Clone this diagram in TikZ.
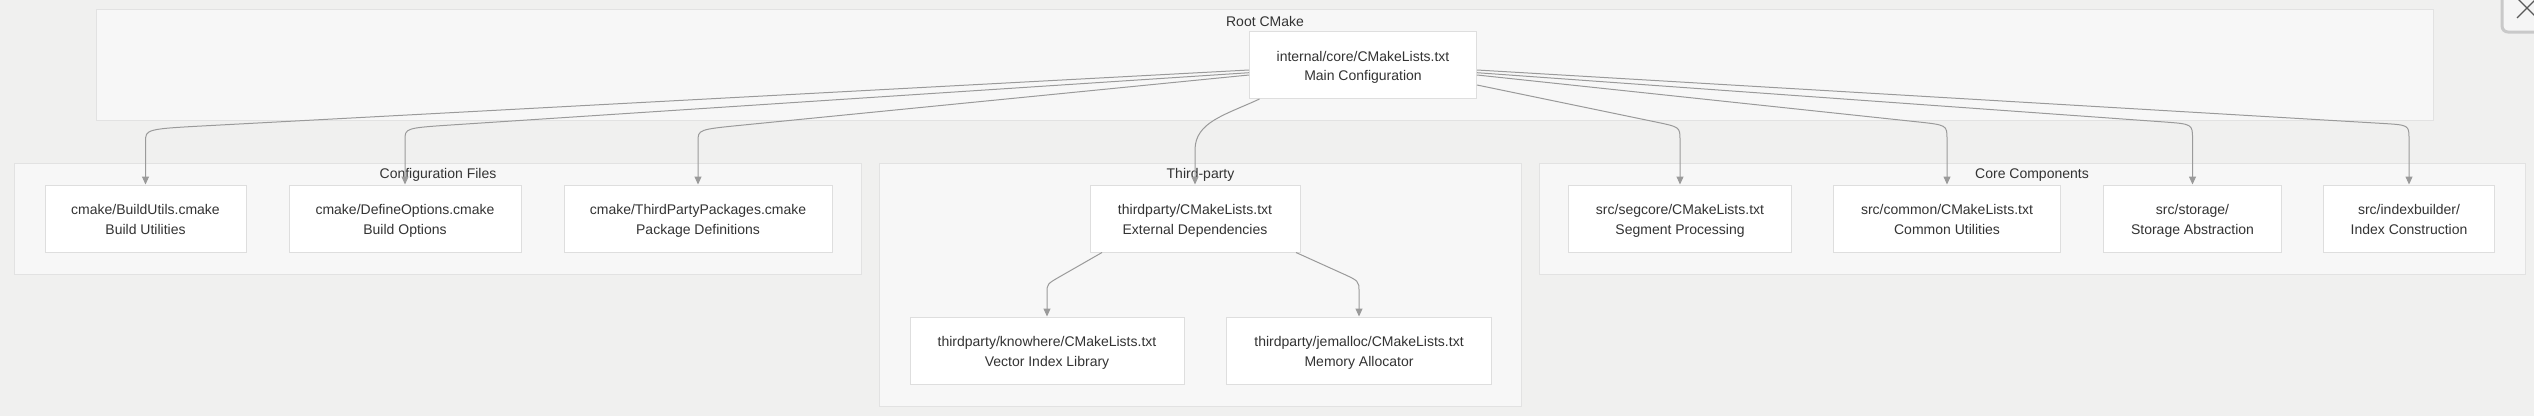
\documentclass[tikz,border=0pt]{standalone}
\usepackage{fontspec}
\setmainfont{Liberation Sans}
\usetikzlibrary{arrows.meta,calc}
\definecolor{bgc}{HTML}{F0F0EF}
\definecolor{clfill}{HTML}{F7F7F7}
\definecolor{cldraw}{HTML}{E2E2E2}
\definecolor{nddraw}{HTML}{DEDEDE}
\definecolor{txt}{HTML}{333333}
\definecolor{edgec}{HTML}{9A9A9A}
\definecolor{btnc}{HTML}{C9C9C9}
\newcommand\mmedge[5]{%
  \draw[arr] (#1) -- ($(#2.north |- 0,#3)!#4pt!(#1)$) .. controls (#2.north |- 0,#3) .. ($(#2.north |- 0,#3)+(0,#5)$) -- (#2.north);}
\begin{document}
\begin{tikzpicture}[x=1pt,y=-1pt,
  box/.style={draw=nddraw, fill=white, line width=1pt, minimum height=67pt, align=center, text=txt,
    font=\fontsize{14}{19.5}\selectfont, inner sep=0pt, text height=31.5pt, text depth=0pt},
  cluster/.style={draw=cldraw, fill=clfill, line width=1pt},
  ctitle/.style={text=txt, font=\fontsize{14}{16}\selectfont, inner sep=0pt, anchor=base},
  arr/.style={draw=edgec, line width=1pt, -{Triangle[length=8pt,width=7pt]}}
]
\useasboundingbox (0,0) rectangle (2534,416);
\fill[bgc] (0,0) rectangle (2534,416);

% clusters
\path[cluster] (96,9.5) rectangle (2433,120);
\path[cluster] (14.5,163) rectangle (861,274);
\path[cluster] (879,163) rectangle (1521,406);
\path[cluster] (1539,163) rectangle (2525.5,274);
\node[ctitle] (troot) at (1265,26) {Root CMake};
\node[ctitle] (tconf) at (438,178.5) {Configuration Files};
\node[ctitle] (tthird) at (1200.5,178.5) {Third-party};
\node[ctitle] (tcore) at (2032,178.5) {Core Components};

% nodes
\node[box, minimum width=227pt] (m) at (1363,65) {internal/core/CMakeLists.txt\\Main Configuration};
\node[box, minimum width=201pt] (b1) at (145.5,218.5) {cmake/BuildUtils.cmake\\Build Utilities};
\node[box, minimum width=232pt] (b2) at (405,218.5) {cmake/DefineOptions.cmake\\Build Options};
\node[box, minimum width=268pt] (b3) at (698,218.5) {cmake/ThirdPartyPackages.cmake\\Package Definitions};
\node[box, minimum width=210pt] (tp) at (1195,218.5) {thirdparty/CMakeLists.txt\\External Dependencies};
\node[box, minimum width=274pt] (kw) at (1047,350.5) {thirdparty/knowhere/CMakeLists.txt\\Vector Index Library};
\node[box, minimum width=265pt] (je) at (1359,350.5) {thirdparty/jemalloc/CMakeLists.txt\\Memory Allocator};
\node[box, minimum width=223pt] (sc) at (1680,218.5) {src/segcore/CMakeLists.txt\\Segment Processing};
\node[box, minimum width=227pt] (cm) at (1947,218.5) {src/common/CMakeLists.txt\\Common Utilities};
\node[box, minimum width=178pt] (st) at (2192.5,218.5) {src/storage/\\Storage Abstraction};
\node[box, minimum width=171pt] (ib) at (2409,218.5) {src/indexbuilder/\\Index Construction};

% edge start points
\coordinate (s1) at ([yshift=-5pt]m.west);
\coordinate (s2) at ([yshift=-7.7pt]m.west);
\coordinate (s3) at ([yshift=-10pt]m.west);
\coordinate (s4) at ([xshift=10.5pt]m.south west);
\coordinate (s5) at ([yshift=-20pt]m.east);
\coordinate (s6) at ([yshift=-10pt]m.east);
\coordinate (s7) at ([yshift=-7.7pt]m.east);
\coordinate (s8) at ([yshift=-5pt]m.east);
\coordinate (t1) at ([xshift=12.5pt]tp.south west);
\coordinate (t2) at ([xshift=-4.5pt]tp.south east);

% edges
\mmedge{s1}{b1}{129}{65}{13}
\mmedge{s2}{b2}{128}{50}{12}
\mmedge{s3}{b3}{129.5}{46}{12}
\draw[arr] (s4) .. controls (1225,115) and (tp.north |- 0,122) .. (tp.north |- 0,150) -- (tp.north);
\mmedge{s5}{sc}{127}{26}{13}
\mmedge{s6}{cm}{125}{31}{14}
\mmedge{s7}{st}{124}{30}{15}
\mmedge{s8}{ib}{125}{27}{14}
\mmedge{t1}{kw}{284}{15}{9}
\mmedge{t2}{je}{281}{20}{10}

% partial close button at the top right
\begin{scope}
\clip (0,0) rectangle (2534,416);
\draw[btnc, line width=3pt, fill=white!96!black, rounded corners=6pt] (2502,-12) rectangle (2560,32);
\draw[black!65, line width=1.2pt] (2517,-2) -- (2537,18) (2517,18) -- (2537,-2);
\end{scope}
\end{tikzpicture}
\end{document}
